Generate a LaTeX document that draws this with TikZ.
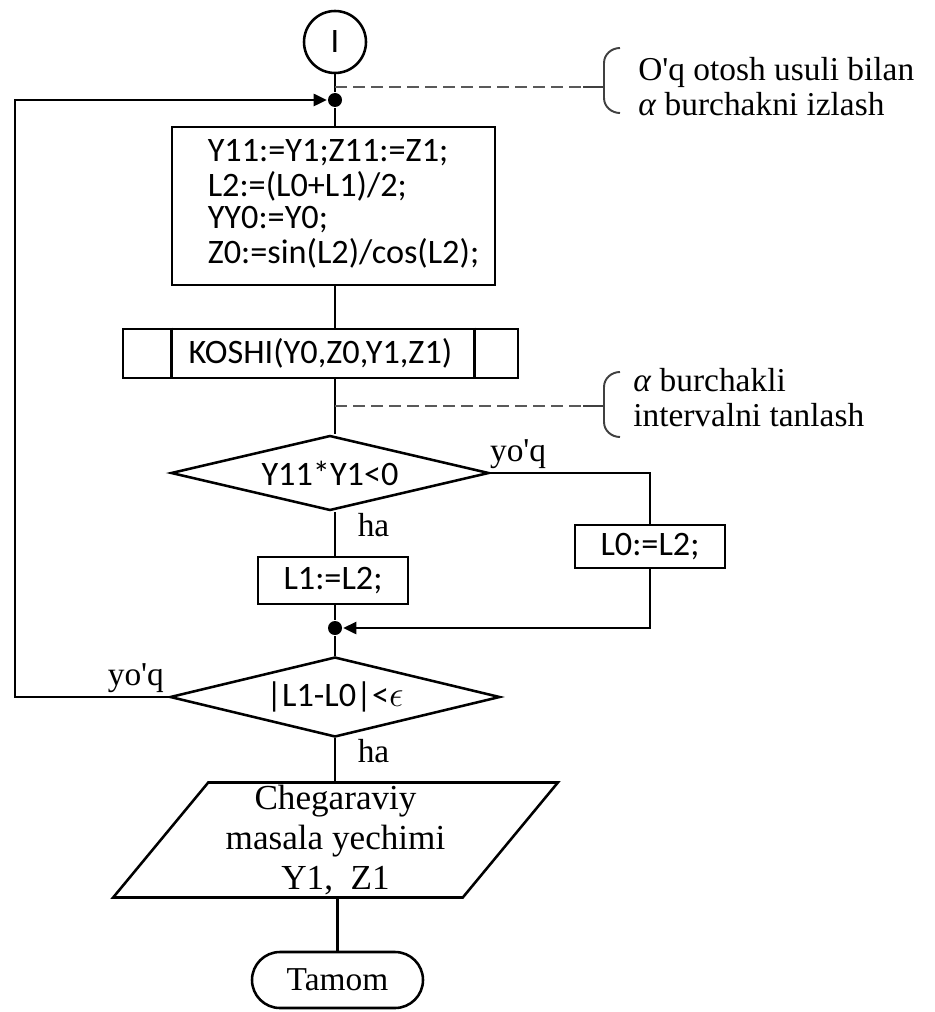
\documentclass[tikz,border=0pt]{standalone}
\usepackage{fontspec}
\newfontfamily\timesfont{Liberation Serif}
\newfontfamily\codefont{Carlito}
\usetikzlibrary{shapes.geometric, arrows.meta}

\begin{document}
\begin{tikzpicture}[
    line width=1.45pt,
    proc/.style={rectangle, draw, inner sep=0pt, font=\codefont\fontsize{19.5}{18.2}\selectfont},
    cond/.style={diamond, draw, aspect=4, inner sep=0pt, font=\codefont\fontsize{19.5}{18.2}\selectfont},
    io/.style={trapezium, trapezium left angle=53, trapezium right angle=127, trapezium stretches=true, draw, inner sep=0pt, align=center, font=\timesfont\fontsize{20}{22.5}\selectfont},
    term/.style={rectangle, rounded corners=0.56cm, draw, font=\timesfont\fontsize{19}{19}\selectfont},
    junc/.style={circle, fill, inner sep=0pt, minimum size=0.28cm},
    lbl/.style={font=\timesfont\fontsize{19}{19}\selectfont, inner sep=2pt},
    note/.style={align=left, inner sep=0pt, font=\timesfont\fontsize{19}{19.5}\selectfont},
    flow/.style={-{Triangle[length=0.26cm, width=0.24cm]}},
    hint/.style={black!65, line width=1.1pt, dash pattern=on 0.24cm off 0.12cm},
    bracket/.style={black!75, line width=1.1pt}
]
    \useasboundingbox (0,0) rectangle (18.68,-20.24);

    % Blocks
    \node[circle, draw, minimum size=1.24cm, inner sep=0pt, font=\codefont\fontsize{19.5}{18.2}\selectfont] (start) at (6.7,-0.84) {I};
    \node[junc] (top) at (6.7,-2.0) {};
    \node[proc, minimum width=6.46cm, minimum height=3.16cm] (init) at (6.67,-4.12) {\hspace*{0.4cm}\begin{tabular}{@{}l@{}}
        Y11:=Y1;Z11:=Z1;\\
        L2:=(L0+L1)/2;\\
        YY0:=Y0;\\
        Z0:=sin(L2)/cos(L2);
    \end{tabular}};
    \node[proc, minimum width=7.9cm, minimum height=0.98cm] (koshi) at (6.41,-7.07) {KOSHI(Y0,Z0,Y1,Z1)};
    \draw ([xshift=1cm]koshi.north west) -- ([xshift=1cm]koshi.south west);
    \draw ([xshift=-0.9cm]koshi.north east) -- ([xshift=-0.9cm]koshi.south east);
    \node[cond, minimum width=6.36cm, minimum height=1.5cm] (sign) at (6.6,-9.46) {Y11*Y1<0};
    \node[proc, minimum width=3cm, minimum height=0.94cm] (left) at (6.66,-11.61) {L1:=L2;};
    \node[proc, minimum width=3cm, minimum height=0.86cm] (right) at (13.0,-10.93) {L0:=L2;};
    \node[junc] (merge) at (6.7,-12.56) {};
    \node[cond, minimum width=6.6cm, minimum height=1.6cm] (check) at (6.7,-13.94) {|L1-L0|<$\epsilon$};
    \node[io, minimum width=8.9cm, minimum height=2.3cm] (result) at (6.71,-16.8) {Chegaraviy\\ masala yechimi\\ Y1,\ \ Z1};
    \node[term, minimum width=3.42cm, minimum height=1.12cm] (stop) at (6.75,-19.6) {Tamom};

    % Flow lines
    \coordinate (loop) at (0.3,-2.0);
    \draw (start) -- (top);
    \draw (top) -- (top |- init.north);
    \draw (init.south -| top) -- (koshi.north -| top);
    \draw (koshi.south -| top) -- (sign.north -| top);
    \draw (sign.south -| top) -- node[lbl, right, pos=0.3, xshift=0.36cm] {ha} (left.north -| top);
    \draw (sign.east) node[lbl, above right, xshift=-0.1cm] {yo'q} -| (right.north);
    \draw (left.south -| top) -- (merge);
    \draw[flow] (right.south) |- (merge);
    \draw (merge) -- (check.north);
    \draw[flow] (check.west) node[lbl, above left] {yo'q} -| (loop) -- (top);
    \draw (check.south) -- node[lbl, right, pos=0.3, xshift=0.36cm] {ha} (check.south |- result.north);
    \draw (result.south -| stop.north) -- (stop.north);

    % Notes
    \coordinate (hook1) at (11.66,-1.74);
    \coordinate (hook2) at (11.66,-8.12);
    \draw[hint] (hook1 -| top) -- (hook1);
    \draw[bracket] (hook1) -- ++(0.42,0);
    \draw[bracket] ([xshift=0.74cm, yshift=0.78cm]hook1) to[out=180, in=90] ++(-0.32,-0.3) -- ++(0,-0.7) to[out=-90, in=180] ++(0.32,-0.3);
    \node[note, anchor=west] (note1) at (12.74,-1.73) {O'q otosh usuli bilan\\ \textit{α} burchakni izlash};
    \draw[hint] (hook2 -| top) -- (hook2);
    \draw[bracket] (hook2) -- ++(0.42,0);
    \draw[bracket] ([xshift=0.74cm, yshift=0.68cm]hook2) to[out=180, in=90] ++(-0.32,-0.3) -- ++(0,-0.7) to[out=-90, in=180] ++(0.32,-0.3);
    \node[note, anchor=west] (note2) at (12.64,-7.95) {\textit{α} burchakli\\ intervalni tanlash};

\end{tikzpicture}
\end{document}
